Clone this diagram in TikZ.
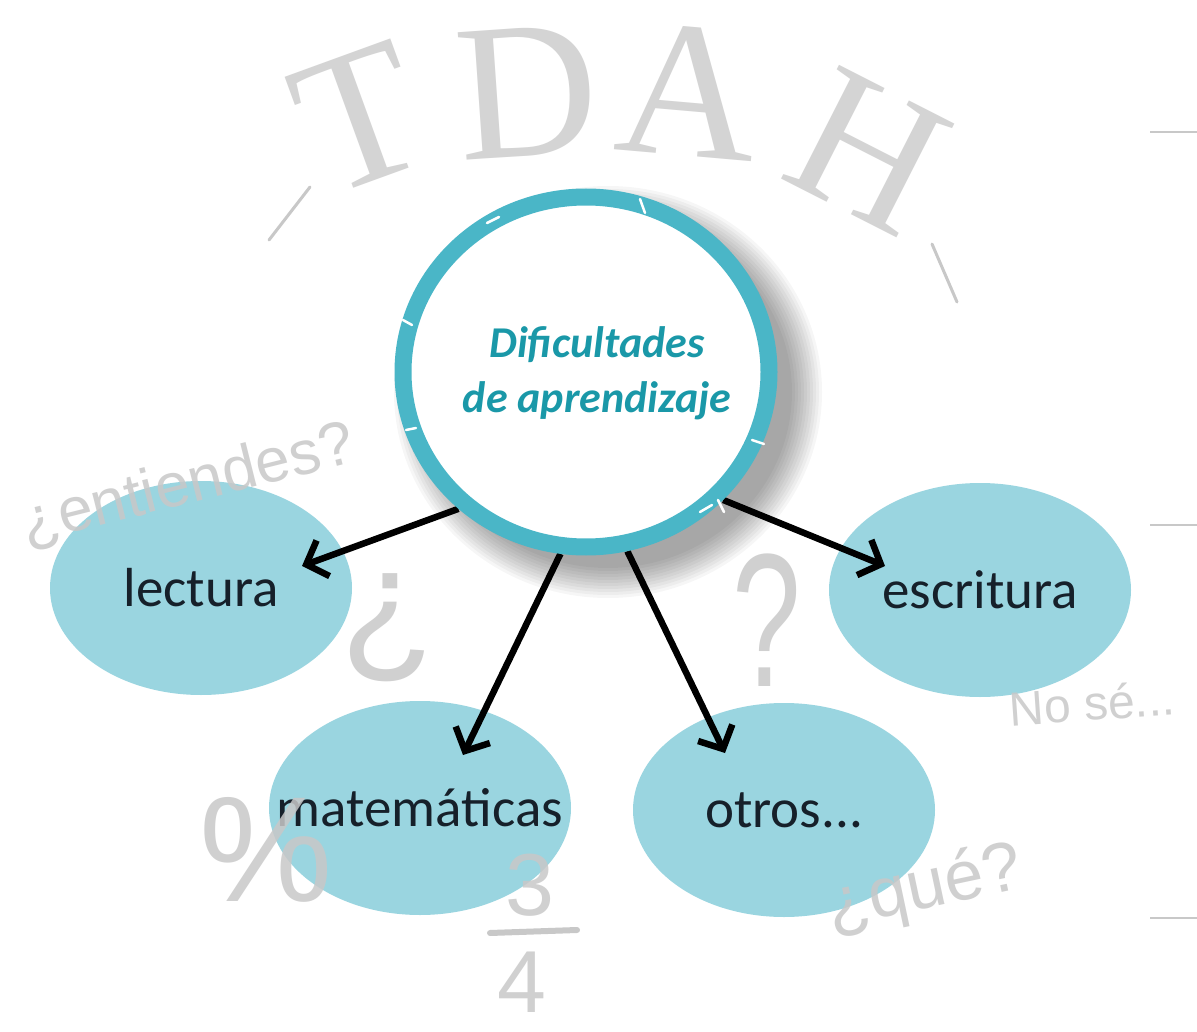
\documentclass[tikz,border=0pt]{standalone}
\usepackage{fontspec}
\setmainfont{Carlito}
\newfontfamily\doodlefont{Liberation Sans}
\newfontfamily\tdahfont{Liberation Serif}
\usetikzlibrary{shapes.geometric,arrows.meta}
\definecolor{ringc}{RGB}{74,182,199}
\definecolor{satc}{RGB}{154,213,224}
\definecolor{titlec}{RGB}{26,152,168}
\definecolor{labelc}{RGB}{22,32,42}
\definecolor{doodc}{RGB}{200,200,200}
\definecolor{tdahc}{RGB}{212,212,212}
\pgfdeclarelayer{bg}
\pgfdeclarelayer{fg}
\pgfsetlayers{bg,main,fg}
\newcommand{\satlabel}[1]{\makebox[0pt][c]{#1}}
\tikzset{
  sat/.style={ellipse, fill=satc, minimum width=302pt, minimum height=214pt,
    inner sep=0pt, text=labelc, font=\fontsize{55}{62}\selectfont},
  arr/.style={line width=6.5pt, draw=black,
    -{Straight Barb[length=18pt,width=38pt]}},
  letter/.style={text=tdahc, inner sep=0pt, font=\tdahfont\fontsize{195}{195}\selectfont},
  dood/.style={text=doodc, inner sep=0pt, text opacity=0.85},
  sketchline/.style={draw=doodc, line width=3pt, line cap=round},
  edgeline/.style={draw=doodc, line width=2pt},
  scratch/.style={draw=white, line width=2.5pt, line cap=round},
  ringnode/.style={ellipse, draw=ringc, line width=17pt, fill=white,
    minimum width=366pt, minimum height=350pt, inner sep=0pt},
  titletext/.style={text=titlec, align=center, inner sep=0pt,
    font=\bfseries\itshape\fontsize{44}{55}\selectfont}
}
\begin{document}
\begin{tikzpicture}[x=1pt,y=-1pt]
\useasboundingbox (0,0) rectangle (1197,1032);

\begin{pgfonlayer}{bg}
  \fill[white] (0,0) rectangle (1197,1032);
  % TDAH sketch letters
  \node[letter, rotate=20]  (tT) at (360,118) {T};
  \node[letter, rotate=4]   (tD) at (527,92)  {D};
  \node[letter, rotate=-5]  (tA) at (688,92)  {A};
  \node[letter, rotate=-27] (tH) at (868,152) {H};
  \draw[sketchline] (269,240) -- (310,187);
  \draw[sketchline] (932,244) -- (957,302);
  % right edge marks
  \draw[edgeline] (1150,132) -- (1197,132);
  \draw[edgeline] (1150,525) -- (1197,525);
  \draw[edgeline] (1150,918) -- (1197,918);
  % shadow of the central circle
  \foreach \r in {184,187,...,214} {
    \fill[black, opacity=0.035] (608,392) ellipse [x radius=\r pt, y radius=\r pt-8pt];
  }
  % satellite ellipses
  \node[sat] (lectura)     at (201,588) {\satlabel{lectura}};
  \node[sat] (escritura)   at (980,590) {\satlabel{escritura}};
  \node[sat] (matematicas) at (420,808) {\satlabel{matemáticas}};
  \node[sat] (otros)       at (784,810) {\satlabel{otros...}};
  % doodles
  \node[dood, rotate=14, font=\doodlefont\fontsize{62}{62}\selectfont] (entiendes) at (188,486) {¿entiendes?};
  \node[dood, font=\doodlefont\fontsize{155}{155}\selectfont] (invq) at (388,628) {¿};
  \node[dood, xscale=0.65, font=\doodlefont\fontsize{190}{190}\selectfont] (qmark) at (767,620) {?};
  \node[dood, rotate=4, font=\doodlefont\fontsize{48}{48}\selectfont] (nose) at (1092,703) {No sé...};
  \node[dood, rotate=12, font=\doodlefont\fontsize{70}{70}\selectfont] (que) at (925,890) {¿qué?};
  \node[dood, font=\doodlefont\fontsize{150}{150}\selectfont] (pct) at (266,850) {\%};
  \node[dood, font=\doodlefont\fontsize{88}{88}\selectfont] (three) at (530,885) {3};
  \draw[sketchline, line width=6pt] (490,933) -- (577,930);
  \node[dood, font=\doodlefont\fontsize{88}{88}\selectfont] (four) at (522,982) {4};
\end{pgfonlayer}

\begin{pgfonlayer}{fg}
  \node[ringnode] (dif) at (586,372) {};
  \node[titletext] (diftext) at (597,373) {Dificultades\\de aprendizaje};
  % worn texture on the ring
  \draw[scratch] (640,199) -- (645,213);
  \draw[scratch] (487,223) -- (499,217);
  \draw[scratch] (403,320) -- (412,325);
  \draw[scratch] (406,430) -- (416,428);
  \draw[scratch] (700,512) -- (712,505);
  \draw[scratch] (718,500) -- (724,512);
  \draw[scratch] (752,440) -- (764,444);
\end{pgfonlayer}

% connectors
\coordinate (tipL) at (302,566);
\coordinate (tipM) at (463,755);
\coordinate (tipO) at (725,753);
\coordinate (tipE) at (885,566);
\draw[arr] (dif.227) -- (tipL);
\draw[arr] (dif.262) -- (tipM);
\draw[arr] (dif.283) -- (tipO);
\draw[arr] (dif.317) -- (tipE);
\end{tikzpicture}
\end{document}
